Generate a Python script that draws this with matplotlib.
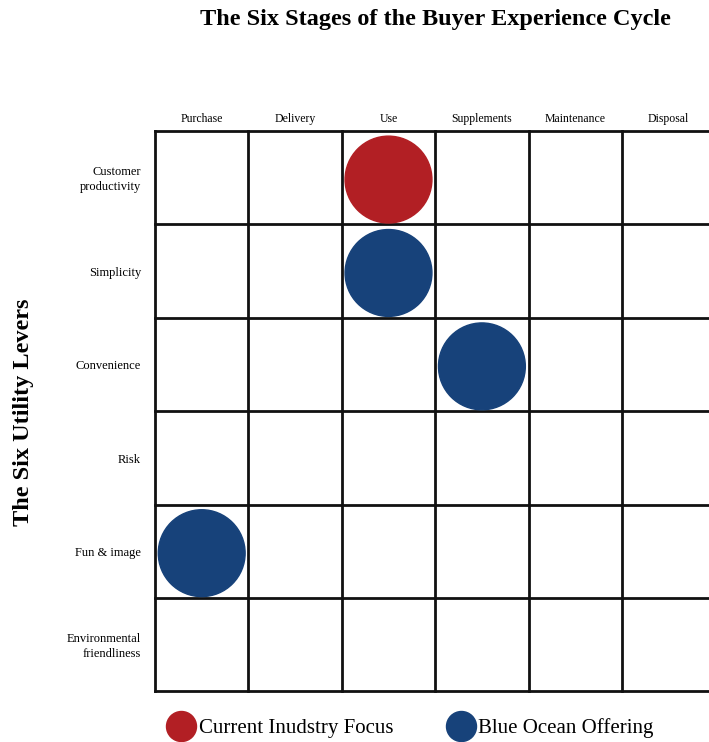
import numpy as np
import matplotlib.pyplot as plt
from matplotlib.patches import Circle
from matplotlib.lines import Line2D

plt.rcParams['font.family'] = ['Liberation Serif', 'DejaVu Serif']

# --- data ---
stages = ['Purchase', 'Delivery', 'Use', 'Supplements', 'Maintenance', 'Disposal']
levers = ['Customer\nproductivity', 'Simplicity', 'Convenience', 'Risk',
          'Fun & image', 'Environmental\nfriendliness']
current_focus = [('Use', 'Customer\nproductivity')]
blue_ocean = [('Use', 'Simplicity'), ('Supplements', 'Convenience'),
              ('Purchase', 'Fun & image')]

red = '#b21f24'
blue = '#17427a'

W, H = 709, 742
fig = plt.figure(figsize=(W / 100, H / 100), dpi=100)
cell = 93.4
left, top = 155, 131
ax = fig.add_axes([left / W, 1 - (top + 6 * cell) / H, 6 * cell / W, 6 * cell / H])
ax.set_xlim(0, 6)
ax.set_ylim(6, 0)
ax.axis('off')

# grid
for i in range(7):
    ax.plot([i, i], [0, 6], color='#111111', lw=2, solid_capstyle='projecting', clip_on=False)
    ax.plot([0, 6], [i, i], color='#111111', lw=2, solid_capstyle='projecting', clip_on=False)

# circles (sit slightly low in their cells)
for pts, col in [(current_focus, red), (blue_ocean, blue)]:
    for st, lv in pts:
        cx = stages.index(st) + 0.5
        cy = levers.index(lv) + 0.52
        ax.add_patch(Circle((cx, cy), 0.465, color=col, zorder=3))

# labels
for i, s in enumerate(stages):
    ax.text(i + 0.5, -0.06, s, ha='center', va='bottom', fontsize=8.5)
for j, l in enumerate(levers):
    ax.text(-0.15, j + 0.52, l, ha='right', va='center', fontsize=9,
            multialignment='right', linespacing=1.3)

fig.text(435 / W, 1 - 20 / H, 'The Six Stages of the Buyer Experience Cycle',
         ha='center', va='center', fontsize=17.5, fontweight='bold')
fig.text(24 / W, 1 - 412 / H, 'The Six Utility Levers', rotation=90,
         ha='center', va='center', fontsize=17.5, fontweight='bold')

# legend
handles = [Line2D([], [], marker='o', ls='', color=red, markersize=21.6),
           Line2D([], [], marker='o', ls='', color=blue, markersize=21.6)]
fig.legend(handles, ['Current Inudstry Focus', 'Blue Ocean Offering'],
           loc='center', bbox_to_anchor=(410 / W, 1 - 728 / H), ncol=2,
           frameon=False, fontsize=15, handletextpad=0.12, columnspacing=2.55,
           handlelength=1.4, borderaxespad=0)

fig.savefig('out.png', dpi=100)
